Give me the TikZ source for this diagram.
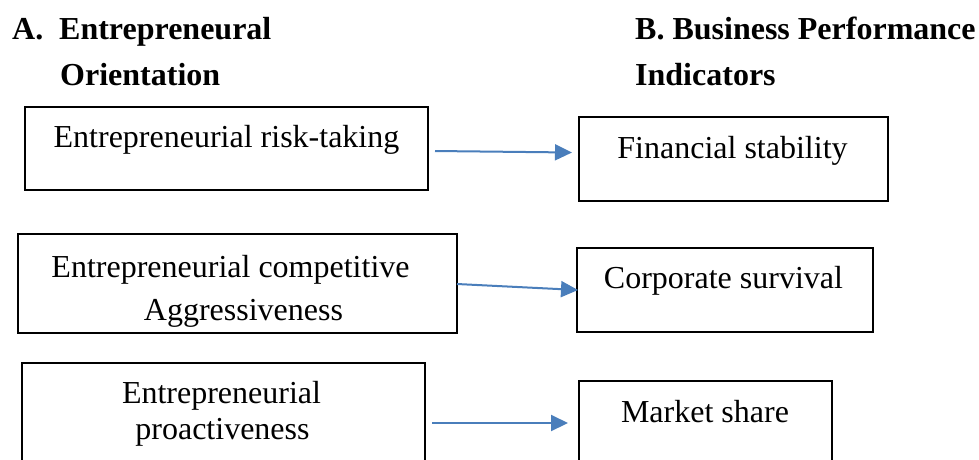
\documentclass[tikz,border=0pt]{standalone}
\usepackage{fontspec}
\setmainfont{Liberation Serif}
\usetikzlibrary{arrows.meta}
\definecolor{linkblue}{HTML}{4A7EBB}
\tikzset{
  x=1pt, y=-1pt,
  txt/.style={inner sep=0pt, anchor=base, font=\fontsize{32pt}{38pt}\selectfont},
  head/.style={inner sep=0pt, anchor=base west, font=\fontsize{32pt}{38pt}\selectfont\bfseries},
  frame/.style={draw=black, line width=2.4pt, rectangle, inner sep=0pt, fill=white},
  link/.style={draw=linkblue, line width=2pt, -{Triangle[length=17pt,width=16pt]}}
}
\begin{document}
\begin{tikzpicture}
\useasboundingbox (0,0) rectangle (979,459);
\clip (0,0) rectangle (979,459);

% column headings
\node[head] (hA1) at (12,39) {A.};
\node[head] (hA2) at (59,39) {Entrepreneural};
\node[head] (hA3) at (60,85) {Orientation};
\node[head] (hB1) at (635,39) {B. Business Performance};
\node[head] (hB2) at (635,85) {Indicators};

% left column: orientation dimensions
\node[frame, minimum width=403pt, minimum height=83pt] (r1) at (226.5,148.5) {};
\node[txt] (r1t) at (226.5,147) {Entrepreneurial risk-taking};

\node[frame, minimum width=439pt, minimum height=99pt] (r2) at (237.5,283.5) {};
\node[txt] (r2t1) at (230.5,277) {Entrepreneurial competitive};
\begin{scope}
  \clip (18,234) rectangle (457,326);
  \node[txt] (r2t2) at (243.5,320) {Aggressiveness};
\end{scope}

\node[frame, minimum width=403pt, minimum height=117pt] (r3) at (223.5,421.5) {};
\node[txt] (r3t1) at (221.5,403) {Entrepreneurial};
\node[txt] (r3t2) at (222.5,439) {proactiveness};

% right column: performance indicators
\node[frame, minimum width=309pt, minimum height=84pt] (f) at (733.5,159) {};
\node[txt] (ft) at (732.5,158) {Financial stability};

\node[frame, minimum width=296pt, minimum height=84pt] (c) at (725,290) {};
\node[txt] (ct) at (723.5,288) {Corporate survival};

\node[frame, minimum width=253pt, minimum height=99pt] (m) at (705.5,430.5) {};
\node[txt] (mt) at (705,422) {Market share};

% connector end points
\coordinate (a1s) at (435,151);
\coordinate (a1e) at (572,152.5);
\coordinate (a2s) at (457,284);
\coordinate (a2e) at (578,290);
\coordinate (a3s) at (432,423);
\coordinate (a3e) at (568,423);

\draw[link] (a1s) -- (a1e);
\draw[link] (a2s) -- (a2e);
\draw[link] (a3s) -- (a3e);
\end{tikzpicture}
\end{document}
